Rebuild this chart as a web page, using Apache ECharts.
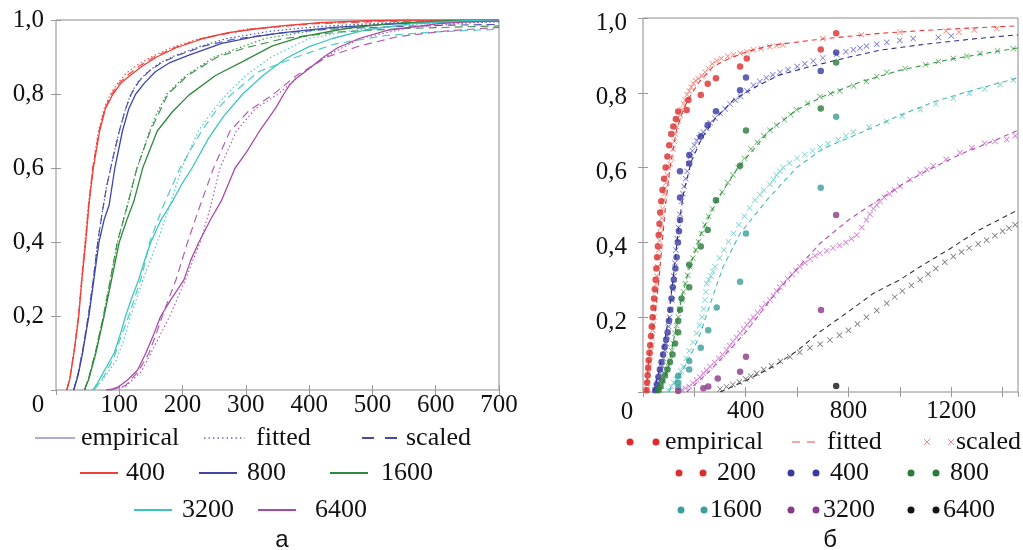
<!DOCTYPE html>
<html><head><meta charset="utf-8">
<script src="https://cdn.jsdelivr.net/npm/echarts@6/dist/echarts.min.js"></script>
<style>html,body{margin:0;padding:0;background:#fff}#c{width:1023px;height:550px}</style>
</head><body><div id="c"></div>
<script>
// ---------- categories / labels ----------
const groupsA = ['400','800','1600','3200','6400'];
const groupsB = ['200','400','800','1600','3200','6400'];
const kinds = ['empirical','fitted','scaled'];
const panelLabels = ['а','б'];

// ---------- panel а : [x, F(x)] ----------
const a400_emp = [[17,0],[22,0.03],[29,0.107],[36,0.2],[41,0.3],[47,0.4],[52,0.5],[59,0.6],[69,0.7],[78,0.76],[90,0.8],[103,0.83],[117,0.85],[136,0.875],[159,0.9],[190,0.925],[233,0.95],[270,0.965],[312,0.975],[360,0.985],[417,0.993],[491,0.998],[560,1.0],[700,1.0]];
const a400_fit = [[17,0],[22,0.035],[29,0.115],[36,0.21],[41,0.31],[46,0.41],[51,0.5],[58,0.6],[67,0.7],[76,0.76],[86,0.8],[98,0.83],[110,0.855],[128,0.878],[150,0.9],[183,0.926],[228,0.95],[300,0.975],[400,0.99],[500,0.997],[650,1.0],[700,1.0]];
const a400_sc = [[17,0],[22,0.032],[29,0.11],[36,0.205],[41,0.305],[47,0.405],[52,0.505],[58,0.6],[68,0.7],[77,0.76],[88,0.8],[100,0.83],[114,0.852],[132,0.876],[155,0.9],[187,0.925],[230,0.95],[305,0.975],[410,0.99],[520,0.996],[700,0.999]];

const a800_emp = [[28,0],[35,0.04],[42,0.1],[52,0.2],[60,0.3],[68,0.4],[76,0.46],[84,0.5],[93,0.6],[105,0.7],[115,0.76],[126,0.8],[140,0.83],[157,0.86],[180,0.885],[210,0.905],[262,0.937],[315,0.955],[359,0.966],[438,0.98],[544,0.99],[650,0.997],[700,0.998]];
const a800_fit = [[28,0],[35,0.045],[42,0.105],[51,0.2],[59,0.3],[66,0.4],[73,0.48],[80,0.55],[89,0.62],[100,0.7],[110,0.76],[118,0.8],[130,0.834],[145,0.86],[165,0.885],[190,0.905],[230,0.93],[270,0.95],[340,0.97],[420,0.983],[520,0.992],[620,0.996],[700,0.998]];
const a800_sc = [[28,0],[35,0.045],[42,0.105],[51,0.2],[59,0.3],[66,0.4],[73,0.48],[80,0.55],[89,0.62],[100,0.7],[110,0.76],[119,0.8],[131,0.834],[146,0.86],[167,0.885],[193,0.905],[235,0.93],[280,0.948],[350,0.964],[430,0.975],[530,0.982],[620,0.986],[700,0.988]];

const a1600_emp = [[45,0],[52,0.03],[63,0.1],[76,0.2],[88,0.3],[100,0.4],[112,0.46],[123,0.51],[137,0.6],[160,0.7],[184,0.752],[210,0.797],[252,0.85],[294,0.887],[342,0.93],[389,0.955],[458,0.977],[526,0.99],[620,0.998],[700,1.0]];
const a1600_fit = [[45,0],[52,0.035],[62,0.1],[75,0.2],[86,0.3],[97,0.4],[113,0.5],[128,0.6],[148,0.7],[160,0.75],[175,0.8],[205,0.85],[250,0.9],[290,0.925],[330,0.95],[420,0.975],[520,0.99],[700,0.997]];
const a1600_sc = [[45,0],[52,0.035],[62,0.1],[75,0.2],[86,0.3],[97,0.4],[113,0.5],[128,0.6],[149,0.7],[177,0.8],[208,0.85],[255,0.9],[300,0.925],[360,0.95],[450,0.968],[550,0.977],[700,0.984]];

const a3200_emp = [[58,0],[66,0.02],[74,0.045],[92,0.1],[102,0.153],[110,0.2],[120,0.25],[131,0.3],[140,0.35],[150,0.4],[166,0.46],[184,0.51],[200,0.56],[215,0.6],[241,0.68],[265,0.74],[295,0.8],[327,0.85],[363,0.896],[400,0.928],[437,0.95],[489,0.973],[563,0.99],[650,0.998],[700,0.999]];
const a3200_fit = [[60,0],[75,0.03],[95,0.08],[108,0.14],[118,0.2],[140,0.31],[160,0.4],[180,0.5],[199,0.6],[225,0.7],[250,0.76],[270,0.8],[300,0.85],[340,0.9],[400,0.95],[480,0.975],[580,0.99],[700,0.996]];
const a3200_sc = [[60,0],[75,0.035],[92,0.09],[104,0.15],[115,0.2],[136,0.31],[148,0.4],[170,0.5],[196,0.6],[230,0.7],[255,0.76],[278,0.8],[320,0.86],[380,0.9],[440,0.935],[520,0.958],[600,0.968],[700,0.975]];

const a6400_emp = [[79,0],[89,0.002],[100,0.01],[113,0.027],[129,0.054],[142,0.1],[155,0.153],[165,0.198],[181,0.243],[202,0.297],[213,0.351],[226,0.4],[244,0.46],[262,0.514],[283,0.6],[300,0.64],[321,0.698],[347,0.762],[360,0.8],[369,0.824],[378,0.84],[395,0.862],[423,0.9],[445,0.925],[479,0.95],[526,0.973],[605,0.99],[650,0.995],[700,0.997]];
const a6400_fit = [[85,0],[110,0.01],[135,0.05],[150,0.1],[165,0.15],[180,0.2],[205,0.3],[228,0.4],[245,0.5],[259,0.6],[285,0.7],[315,0.76],[351,0.8],[385,0.85],[425,0.9],[480,0.95],[560,0.98],[650,0.992],[700,0.995]];
const a6400_sc = [[85,0],[110,0.012],[130,0.05],[147,0.1],[158,0.15],[168,0.2],[190,0.3],[208,0.4],[228,0.5],[249,0.6],[275,0.7],[305,0.755],[344,0.8],[380,0.85],[428,0.9],[480,0.93],[540,0.955],[620,0.971],[700,0.98]];

// ---------- panel б : [x, F(x)] ----------
const b200_emp = [[14,0.005],[16,0.025],[18,0.045],[20,0.065],[22,0.085],[25,0.105],[28,0.125],[31,0.15],[34,0.175],[37,0.2],[40,0.225],[43,0.25],[46,0.275],[49,0.3],[52,0.33],[55,0.36],[58,0.39],[61,0.42],[64,0.45],[67,0.48],[71,0.51],[76,0.54],[82,0.57],[88,0.6],[95,0.63],[102,0.66],[110,0.69],[118,0.71],[128,0.73],[137,0.75],[170,0.754],[177,0.781],[225,0.794],[252,0.824],[284,0.839],[378,0.87],[404,0.892],[692,0.916],[752,0.959]];
const b200_fit = [[12,0],[25,0.1],[45,0.2],[62,0.3],[75,0.4],[88,0.5],[105,0.6],[130,0.7],[160,0.76],[183,0.79],[220,0.83],[273,0.87],[330,0.89],[404,0.91],[500,0.927],[662,0.941],[800,0.951],[923,0.959],[1100,0.967],[1300,0.974],[1460,0.979]];
const b200_sc = [[14,0.005],[16,0.02],[18,0.035],[20,0.05],[22,0.065],[25,0.08],[28,0.095],[31,0.11],[34,0.125],[36,0.145],[38,0.165],[40,0.18],[43,0.2],[45,0.225],[47,0.246],[50,0.27],[52,0.29],[54,0.31],[57,0.335],[60,0.36],[62,0.38],[65,0.405],[68,0.425],[70,0.44],[73,0.465],[76,0.49],[79,0.513],[83,0.53],[86,0.545],[90,0.56],[95,0.58],[100,0.6],[106,0.61],[112,0.625],[117,0.65],[122,0.67],[126,0.69],[131,0.709],[138,0.725],[145,0.74],[152,0.755],[158,0.77],[164,0.781],[172,0.795],[180,0.805],[188,0.815],[196,0.825],[205,0.832],[215,0.838],[229,0.845],[242,0.855],[255,0.865],[270,0.878],[287,0.886],[305,0.892],[330,0.898],[352,0.902],[378,0.906],[405,0.91],[430,0.915],[460,0.918],[494,0.923],[520,0.926],[545,0.928],[700,0.945],[850,0.955],[1000,0.962],[1180,0.965],[1230,0.962],[1290,0.968],[1377,0.972]];

const b400_emp = [[48,0.005],[54,0.02],[60,0.04],[66,0.06],[72,0.08],[78,0.1],[84,0.12],[90,0.14],[96,0.16],[101,0.19],[106,0.22],[111,0.25],[116,0.28],[120,0.3],[126,0.33],[131,0.36],[136,0.4],[140,0.43],[144,0.46],[144,0.52],[144,0.59],[180,0.611],[180,0.634],[225,0.683],[252,0.714],[284,0.751],[378,0.807],[401,0.841],[692,0.858],[752,0.908]];
const b400_fit = [[40,0],[60,0.05],[80,0.12],[100,0.2],[120,0.32],[140,0.45],[160,0.54],[190,0.62],[230,0.68],[280,0.73],[352,0.781],[450,0.82],[533,0.848],[650,0.87],[800,0.895],[923,0.914],[1100,0.93],[1300,0.945],[1460,0.955]];
const b400_sc = [[47,0.005],[52,0.015],[56,0.025],[60,0.035],[65,0.05],[70,0.06],[75,0.07],[80,0.09],[86,0.112],[90,0.13],[95,0.15],[100,0.175],[104,0.2],[108,0.22],[112,0.246],[116,0.275],[120,0.31],[124,0.345],[128,0.38],[133,0.41],[138,0.44],[144,0.475],[150,0.51],[155,0.53],[160,0.55],[166,0.57],[172,0.59],[178,0.61],[185,0.63],[192,0.645],[200,0.66],[209,0.672],[218,0.68],[226,0.688],[235,0.695],[248,0.705],[261,0.72],[280,0.732],[300,0.745],[320,0.757],[339,0.77],[360,0.78],[380,0.79],[405,0.805],[430,0.82],[455,0.83],[480,0.84],[505,0.848],[533,0.855],[565,0.862],[600,0.87],[630,0.878],[663,0.885],[700,0.893],[754,0.903],[790,0.91],[819,0.915],[845,0.92],[870,0.925],[910,0.93],[949,0.935],[1000,0.94],[1052,0.945],[1150,0.948],[1200,0.952]];

const b800_emp = [[60,0.005],[68,0.015],[75,0.03],[85,0.045],[95,0.06],[105,0.08],[115,0.1],[125,0.13],[137,0.16],[137,0.19],[144,0.22],[150,0.25],[180,0.28],[180,0.34],[225,0.389],[252,0.433],[284,0.513],[378,0.605],[401,0.699],[692,0.758],[752,0.881]];
const b800_fit = [[60,0],[80,0.03],[100,0.07],[125,0.16],[150,0.25],[180,0.33],[230,0.43],[290,0.515],[370,0.6],[494,0.7],[600,0.755],[700,0.79],[850,0.83],[1000,0.86],[1200,0.89],[1460,0.92]];
const b800_sc = [[66,0.005],[72,0.015],[80,0.03],[88,0.045],[95,0.06],[99,0.068],[105,0.085],[112,0.11],[118,0.13],[125,0.157],[131,0.178],[138,0.2],[144,0.222],[151,0.246],[158,0.268],[165,0.29],[174,0.312],[183,0.335],[194,0.358],[205,0.38],[216,0.402],[228,0.424],[241,0.447],[255,0.47],[270,0.49],[287,0.513],[308,0.535],[330,0.56],[350,0.58],[371,0.6],[395,0.625],[420,0.65],[445,0.668],[470,0.685],[494,0.7],[520,0.713],[550,0.728],[575,0.742],[598,0.755],[640,0.772],[689,0.79],[730,0.798],[767,0.805],[820,0.818],[870,0.83],[910,0.843],[949,0.855],[1020,0.865],[1100,0.875],[1150,0.884],[1208,0.892],[1260,0.898],[1312,0.905],[1380,0.912],[1441,0.918]];

const b1600_emp = [[137,0.012],[137,0.025],[137,0.043],[180,0.06],[180,0.083],[225,0.118],[254,0.165],[287,0.226],[378,0.295],[401,0.424],[692,0.546],[752,0.736]];
const b1600_fit = [[100,0],[140,0.04],[180,0.09],[220,0.15],[267,0.246],[312,0.335],[378,0.424],[482,0.513],[598,0.6],[700,0.65],[870,0.7],[1000,0.74],[1150,0.78],[1300,0.81],[1460,0.84]];
const b1600_sc = [[99,0.005],[110,0.015],[120,0.025],[130,0.035],[140,0.045],[148,0.056],[157,0.068],[168,0.09],[180,0.11],[195,0.133],[209,0.157],[220,0.178],[230,0.2],[236,0.222],[241,0.246],[245,0.268],[248,0.29],[256,0.3],[265,0.31],[272,0.322],[280,0.335],[298,0.358],[315,0.38],[333,0.402],[352,0.424],[373,0.447],[395,0.47],[415,0.492],[436,0.513],[455,0.528],[470,0.54],[494,0.555],[508,0.568],[520,0.58],[533,0.59],[546,0.6],[570,0.612],[600,0.625],[630,0.635],[660,0.645],[689,0.655],[720,0.664],[760,0.675],[790,0.685],[819,0.695],[880,0.708],[949,0.723],[1010,0.738],[1080,0.755],[1140,0.77],[1208,0.785],[1270,0.798],[1330,0.81],[1390,0.822],[1442,0.834]];

const b3200_emp = [[137,0.003],[235,0.01],[254,0.015],[291,0.036],[378,0.054],[401,0.094],[693,0.219],[752,0.473]];
const b3200_fit = [[170,0],[250,0.05],[320,0.1],[400,0.16],[500,0.25],[600,0.33],[689,0.397],[800,0.46],[916,0.513],[1020,0.56],[1130,0.6],[1250,0.64],[1360,0.67],[1460,0.7]];
const b3200_sc = [[150,0.005],[165,0.01],[180,0.015],[195,0.024],[209,0.032],[222,0.04],[235,0.05],[248,0.058],[261,0.068],[278,0.079],[295,0.09],[310,0.1],[326,0.112],[338,0.124],[350,0.135],[364,0.146],[378,0.157],[392,0.169],[405,0.18],[418,0.19],[430,0.2],[446,0.212],[462,0.225],[478,0.236],[494,0.246],[507,0.258],[520,0.27],[533,0.28],[546,0.29],[563,0.303],[580,0.315],[596,0.325],[611,0.335],[630,0.345],[650,0.355],[670,0.364],[689,0.371],[715,0.378],[740,0.385],[765,0.392],[790,0.4],[812,0.41],[832,0.42],[852,0.44],[870,0.46],[884,0.475],[897,0.49],[910,0.5],[923,0.51],[940,0.52],[960,0.53],[980,0.54],[1001,0.55],[1040,0.568],[1079,0.585],[1105,0.595],[1130,0.605],[1180,0.622],[1234,0.64],[1280,0.653],[1330,0.665],[1370,0.67],[1416,0.675],[1449,0.685]];

const b6400_emp = [[752,0.016]];
const b6400_fit = [[300,0],[400,0.03],[507,0.068],[600,0.11],[689,0.161],[800,0.215],[900,0.265],[1000,0.3],[1079,0.335],[1200,0.385],[1300,0.43],[1460,0.487]];
const b6400_sc = [[300,0.008],[325,0.014],[350,0.02],[375,0.027],[400,0.035],[420,0.042],[443,0.05],[470,0.06],[500,0.07],[535,0.082],[572,0.094],[610,0.106],[650,0.118],[690,0.128],[728,0.139],[765,0.152],[800,0.165],[835,0.182],[870,0.2],[910,0.218],[949,0.237],[980,0.254],[1010,0.27],[1045,0.285],[1079,0.3],[1110,0.315],[1140,0.33],[1175,0.347],[1208,0.362],[1240,0.374],[1270,0.385],[1305,0.396],[1338,0.406],[1370,0.418],[1400,0.43],[1425,0.438],[1449,0.447]];

// ---------- style ----------
const serif = '"Liberation Serif","Times New Roman",serif';
const colA = ['#ee4038','#3f46aa','#2e8a3e','#3cc6c0','#a84ba8'];
const colDot = ['#d8302c','#3a3a9e','#2c7a3c','#3a9e9e','#8a3a8a','#151515'];
const colX = ['#f27a74','#6a6ac8','#5aac62','#6ccccc','#cc6acc','#666666'];
const colFit = ['#e43c3c','#30308c','#389a46','#48b8b8','#b450b4','#333333'];
const crossPath = 'path://M0,1L1,0L5,4L9,0L10,1L6,5L10,9L9,10L5,6L1,10L0,9L4,5Z';

const aSets = [[a400_emp,a400_fit,a400_sc],[a800_emp,a800_fit,a800_sc],[a1600_emp,a1600_fit,a1600_sc],[a3200_emp,a3200_fit,a3200_sc],[a6400_emp,a6400_fit,a6400_sc]];
const bSets = [[b200_emp,b200_fit,b200_sc],[b400_emp,b400_fit,b400_sc],[b800_emp,b800_fit,b800_sc],[b1600_emp,b1600_fit,b1600_sc],[b3200_emp,b3200_fit,b3200_sc],[b6400_emp,b6400_fit,b6400_sc]];

const series = [];
aSets.forEach((set,i)=>{
  set.forEach((d,k)=>{
    series.push({type:'line', name:'а '+groupsA[i]+' '+kinds[k], xAxisIndex:0, yAxisIndex:0, data:d,
      symbol:'none', showSymbol:false, silent:true, z: 3-k,
      lineStyle:{color:colA[i], width: k===0?1.3:1.2, type: k===0?'solid':(k===1?[1.5,2.5]:[8,5]), opacity: k===0?1:0.9}});
  });
});
bSets.forEach((set,i)=>{
  series.push({type:'scatter', name:'б '+groupsB[i]+' scaled', xAxisIndex:2, yAxisIndex:2, data:set[2],
    symbol:crossPath, symbolSize:6, silent:true, z:2, itemStyle:{color:colX[i], opacity:0.85}});
  series.push({type:'line', name:'б '+groupsB[i]+' fitted', xAxisIndex:2, yAxisIndex:2, data:set[1],
    symbol:'none', showSymbol:false, silent:true, z:3, lineStyle:{color:colFit[i], width:1.1, type:[5,4]}});
  series.push({type:'scatter', name:'б '+groupsB[i]+' empirical', xAxisIndex:2, yAxisIndex:2, data:set[0],
    symbol:'circle', symbolSize:6.5, silent:true, z:4, itemStyle:{color:colDot[i]}});
});

const tickStyle = {show:true, inside:true, length:5, lineStyle:{color:'#999'}};
const lblStyle = {fontFamily:serif, fontSize:25, color:'#111'};
const fmtY = v => v.toFixed(1).replace('.', ',');

// ---------- legend (graphic) ----------
const T = (text,x,y,size,font) => ({type:'text', style:{text, x, y, font: (size||26)+'px '+(font||serif), fill:'#111', textAlign:'left', textVerticalAlign:'middle', align:'left', verticalAlign:'middle'}});
const L = (x1,x2,y,color,width,dash) => ({type:'line', shape:{x1,y1:y,x2,y2:y}, style:{stroke:color, lineWidth:width, lineDash:dash||null}});
const D = (x,y,color,r) => ({type:'circle', shape:{cx:x,cy:y,r:r||3.5}, style:{fill:color}});
const X = (x,y,color) => ({type:'group', children:[
  {type:'line', shape:{x1:x-3,y1:y-3,x2:x+3,y2:y+3}, style:{stroke:color,lineWidth:1}},
  {type:'line', shape:{x1:x-3,y1:y+3,x2:x+3,y2:y-3}, style:{stroke:color,lineWidth:1}}]});

const g = [];
g.push(L(35,75,438,'#5a5ab8',1.2), T(kinds[0],81,438));
g.push(L(204,245,438,'#6a6ac0',1.3,[1.5,3]), T(kinds[1],256,438));
g.push(L(362,397,438,'#3e4cb0',2,[12,11]), T(kinds[2],406,438));
const aLeg = [[80,118,126,473],[199,237,247,473],[330,368,381,473],[134,172,182,510],[258,296,315,510]];
aLeg.forEach((p,i)=>{ g.push(L(p[0],p[1],p[3],colA[i],2.2), T(groupsA[i],p[2],p[3])); });
g.push(D(630,442,'#e02a2a'), D(656,442,'#e02a2a'), T(kinds[0],665,442));
g.push(L(792,815,442,'#f04a4a',1.2,[8,7]), T(kinds[1],827,442));
g.push(X(927,442,'#f28a8a'), X(951,442,'#f28a8a'), T(kinds[2],956,442));
const bLeg = [[679,703,717,473],[791,816,830,473],[911,936,950,473],[681,704,710,510],[791,816,823,510],[911,936,943,510]];
bLeg.forEach((p,i)=>{ g.push(D(p[0],p[3],colDot[i]), D(p[1],p[3],colDot[i]), T(groupsB[i],p[2],p[3])); });
g.push({type:'text', style:{text:'0', x:38, y:405, font:'25px '+serif, fill:'#111', textAlign:'center', textVerticalAlign:'middle', align:'center', verticalAlign:'middle'}});
g.push({type:'text', style:{text:'0', x:627, y:412, font:'25px '+serif, fill:'#111', textAlign:'center', textVerticalAlign:'middle', align:'center', verticalAlign:'middle'}});
g.push({type:'text', style:{text:panelLabels[0], x:282, y:540, font:'24px "Liberation Sans",Arial,sans-serif', fill:'#111', textAlign:'center', textVerticalAlign:'middle', align:'center', verticalAlign:'middle'}});
g.push({type:'text', style:{text:panelLabels[1], x:830, y:540, font:'24px "Liberation Sans",Arial,sans-serif', fill:'#111', textAlign:'center', textVerticalAlign:'middle', align:'center', verticalAlign:'middle'}});

const option = {
  animation:false,
  backgroundColor:'#fff',
  grid:[
    {left:56, top:20, width:443, height:370, show:true, borderColor:'#8a8a8a', borderWidth:1, backgroundColor:'transparent'},
    {left:643, top:18, width:375, height:374, show:true, borderColor:'#8a8a8a', borderWidth:1, backgroundColor:'transparent'}
  ],
  xAxis:[
    {gridIndex:0, type:'value', min:0, max:700, interval:100, position:'bottom', axisLine:{show:false}, axisTick:tickStyle, splitLine:{show:false},
      axisLabel:Object.assign({margin:3, showMinLabel:false}, lblStyle)},
    {gridIndex:0, type:'value', min:0, max:700, interval:100, position:'top', axisLine:{show:false}, axisTick:tickStyle, splitLine:{show:false}, axisLabel:{show:false}},
    {gridIndex:1, type:'value', min:0, max:1460, interval:200, position:'bottom', axisLine:{show:false}, axisTick:tickStyle, splitLine:{show:false},
      axisLabel:Object.assign({margin:7, showMinLabel:false, showMaxLabel:false, formatter: v => (v>0 && v%400===0) ? String(v) : ''}, lblStyle)},
    {gridIndex:1, type:'value', min:0, max:1460, interval:200, position:'top', axisLine:{show:false}, axisTick:tickStyle, splitLine:{show:false}, axisLabel:{show:false}}
  ],
  yAxis:[
    {gridIndex:0, type:'value', min:0, max:1, interval:0.2, position:'left', axisLine:{show:false}, axisTick:tickStyle, splitLine:{show:false},
      axisLabel:Object.assign({margin:12, showMinLabel:false, formatter:fmtY}, lblStyle)},
    {gridIndex:0, type:'value', min:0, max:1, interval:0.2, position:'right', axisLine:{show:false}, axisTick:tickStyle, splitLine:{show:false}, axisLabel:{show:false}},
    {gridIndex:1, type:'value', min:0, max:1, interval:0.2, position:'left', axisLine:{show:false}, axisTick:tickStyle, splitLine:{show:false},
      axisLabel:Object.assign({margin:16, showMinLabel:false, formatter:fmtY, verticalAlign:'top', lineHeight:10}, lblStyle)},
    {gridIndex:1, type:'value', min:0, max:1, interval:0.2, position:'right', axisLine:{show:false}, axisTick:tickStyle, splitLine:{show:false}, axisLabel:{show:false}}
  ],
  series,
  graphic:{elements:g}
};
const chart = echarts.init(document.getElementById('c'));
chart.setOption(option);
</script>
</body></html>
